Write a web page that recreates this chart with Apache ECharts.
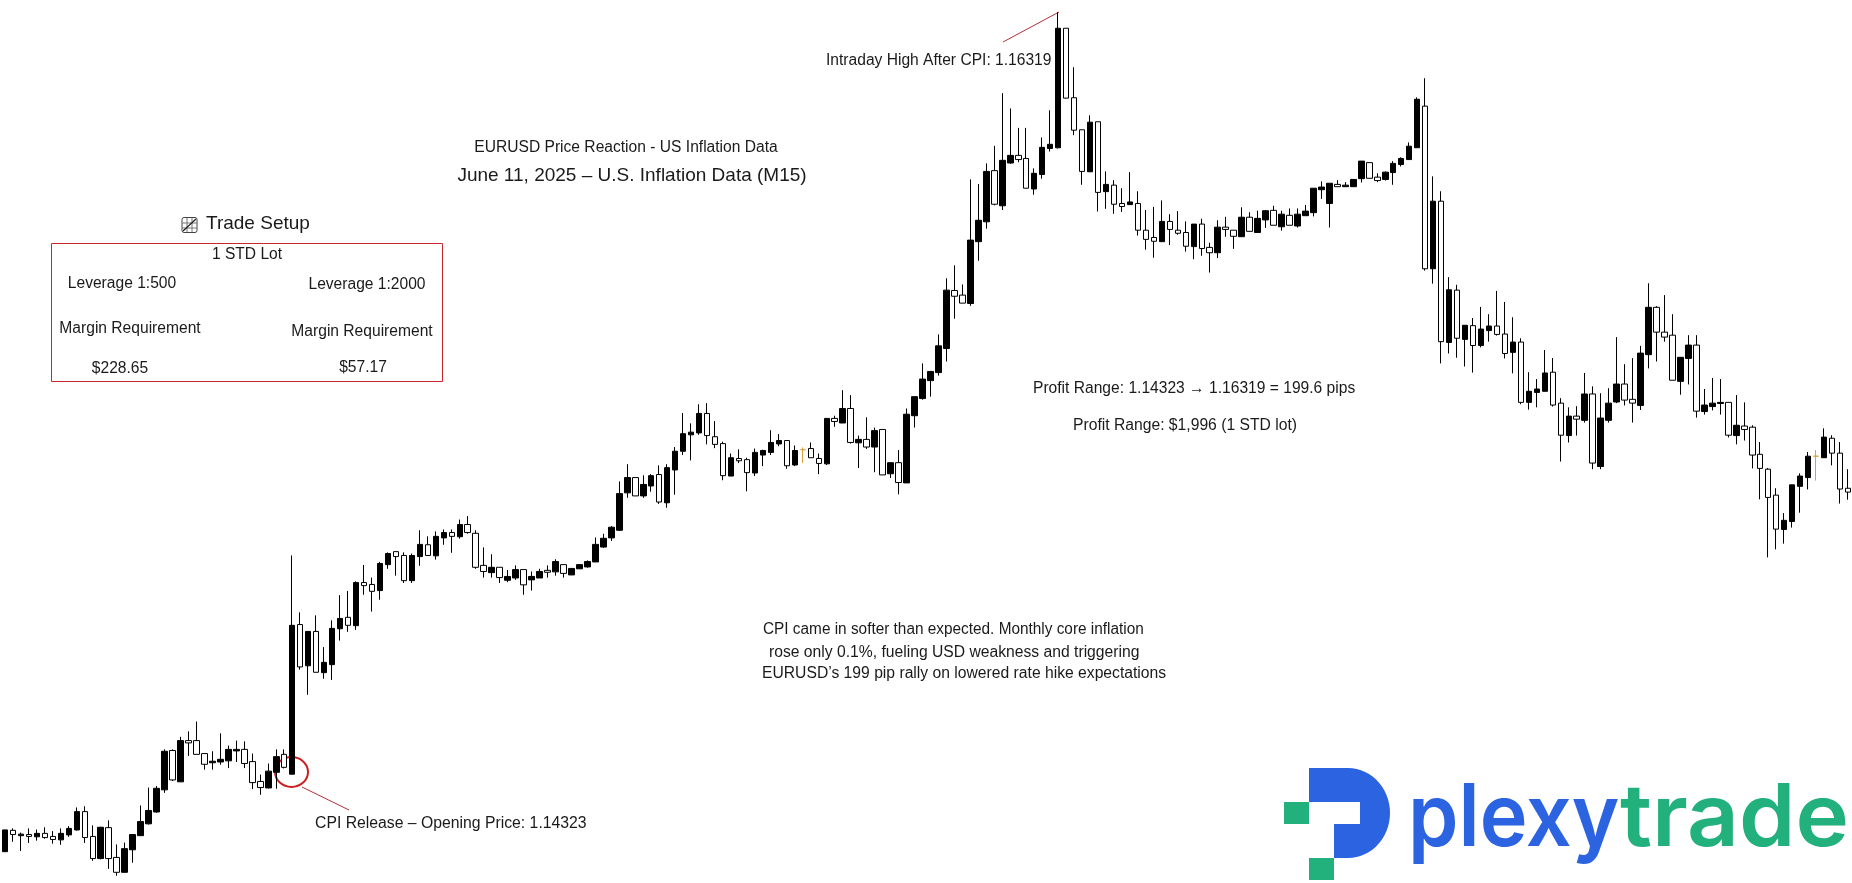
<!DOCTYPE html>
<html>
<head>
<meta charset="utf-8">
<title>EURUSD Price Reaction - US Inflation Data</title>
<style>
    html, body {margin: 0; padding: 0; background: #fff;}
    #chart {width: 1852px; height: 883px;}
</style>
<script src="https://cdn.jsdelivr.net/npm/echarts@6/dist/echarts.min.js"></script>
</head>
<body>
<div id="chart"></div>
<script>
// M15 candles, in points (0.00001) above 1.14000
const basePrice = 1.14;
const opens = [
    120,176,162,165,159,168,160,151,164,177,
    225,160,102,183,105,66,125,162,193,224,
    282,385,303,411,411,377,353,355,358,384,
    388,356,304,287,328,375,323,715,607,697,
    589,610,704,734,712,825,820,804,872,906,
    896,830,893,924,895,942,956,945,977,954,
    870,851,865,831,837,859,832,837,857,853,
    872,845,861,866,879,918,942,962,1060,1100,
    1052,1078,1108,1034,1120,1169,1212,1217,1268,1207,
    1189,1104,1150,1147,1112,1159,1166,1188,1197,1133,
    1173,1176,1150,1136,1255,1243,1281,1191,1200,1180,
    1226,1110,1139,1086,1262,1307,1354,1375,1438,1590,
    1578,1556,1718,1770,1904,1812,1924,1944,1936,1856,
    1894,1962,1964,2277,2095,2011,1901,2032,1849,1866,
    1818,1815,1818,1748,1729,1718,1771,1748,1742,1705,
    1764,1703,1689,1756,1748,1731,1782,1742,1775,1800,
    1757,1787,1759,1786,1794,1854,1818,1868,1862,1862,
    1883,1925,1887,1881,1899,1920,1933,1964,2073,1647,
    1824,1454,1591,1462,1498,1446,1485,1497,1476,1428,
    1455,1297,1323,1326,1376,1295,1210,1261,1250,1319,
    1129,1250,1298,1345,1305,1289,1422,1546,1481,1473,
    1352,1412,1447,1273,1286,1294,1297,1210,1235,1232,
    1161,1122,1054,964,985,1077,1100,1156,1152,1203,
    1164,1072
];
const closes = [
    177,165,166,160,168,157,152,168,181,225,
    157,102,184,102,66,128,165,199,228,286,
    383,308,411,405,375,349,357,362,388,388,
    351,301,288,331,369,341,713,604,697,590,
    616,705,731,713,825,817,802,875,901,893,
    830,896,925,896,946,956,946,977,956,865,
    854,865,838,841,859,819,841,854,852,880,
    849,862,872,880,925,941,970,1058,1100,1052,
    1082,1105,1036,1126,1169,1215,1219,1268,1210,1187,
    1105,1152,1144,1113,1166,1171,1192,1197,1131,1171,
    1173,1152,1137,1255,1247,1281,1192,1200,1180,1223,
    1107,1139,1087,1266,1312,1358,1378,1445,1591,1575,
    1557,1722,1774,1902,1816,1931,1944,1933,1858,1897,
    1965,1973,2277,2094,2010,1902,2031,1847,1868,1816,
    1810,1822,1748,1724,1719,1771,1750,1740,1706,1764,
    1700,1689,1756,1750,1732,1782,1745,1779,1799,1761,
    1790,1761,1790,1798,1858,1861,1871,1862,1866,1881,
    1929,1884,1878,1900,1923,1936,1968,2091,1647,1824,
    1456,1592,1465,1499,1446,1489,1497,1475,1425,1455,
    1297,1326,1332,1374,1290,1211,1261,1253,1319,1138,
    1256,1295,1345,1303,1295,1426,1546,1481,1468,1355,
    1415,1447,1274,1290,1295,1297,1211,1237,1226,1159,
    1124,1048,965,988,1081,1104,1156,1156,1206,1164,
    1070,1062
];
const highs = [
    177,181,170,181,178,184,174,181,187,236,
    239,189,185,202,139,144,165,241,288,292,
    388,388,421,435,461,377,383,430,398,411,
    409,377,322,351,388,388,896,747,698,739,
    656,726,792,803,828,871,838,879,904,907,
    904,901,962,946,959,964,964,990,999,962,
    917,899,865,858,870,859,854,861,870,886,
    872,862,872,883,943,953,973,1090,1135,1100,
    1106,1109,1132,1135,1180,1269,1242,1292,1295,1248,
    1194,1163,1174,1152,1176,1173,1224,1214,1197,1184,
    1179,1192,1163,1255,1262,1329,1316,1210,1258,1231,
    1226,1139,1172,1281,1312,1399,1378,1475,1622,1656,
    1606,1881,1869,1923,1969,2107,2067,2016,2016,1910,
    1991,2062,2319,2277,2175,2011,2049,2032,1902,1879,
    1858,1900,1850,1801,1809,1826,1790,1798,1771,1764,
    1778,1715,1774,1783,1748,1808,1795,1799,1801,1812,
    1799,1805,1805,1814,1858,1876,1871,1879,1874,1881,
    1929,1925,1897,1902,1929,1939,1978,2096,2146,1889,
    1850,1625,1605,1499,1518,1547,1528,1589,1560,1520,
    1465,1376,1358,1434,1413,1308,1284,1287,1374,1339,
    1321,1334,1468,1397,1413,1445,1609,1549,1578,1528,
    1415,1473,1473,1332,1361,1358,1297,1316,1297,1237,
    1193,1125,1072,1007,1081,1111,1167,1172,1229,1211,
    1193,1122
];
const lows = [
    120,146,122,143,149,154,141,138,159,175,
    143,96,100,75,57,65,91,162,191,222,
    274,305,303,371,375,335,335,348,339,355,
    339,284,269,286,285,338,323,597,531,590,
    573,570,673,696,701,793,749,780,861,843,
    824,824,869,896,885,924,903,940,953,861,
    838,838,824,826,832,793,804,837,838,843,
    838,845,861,864,879,916,934,960,1047,1052,
    1047,1063,1031,1021,1055,1159,1145,1212,1187,1177,
    1093,1104,1138,1064,1104,1130,1159,1182,1123,1130,
    1138,1152,1109,1133,1233,1243,1189,1125,1175,1114,
    1107,1099,1056,1086,1231,1304,1312,1367,1404,1516,
    1557,1550,1668,1752,1813,1801,1922,1926,1858,1841,
    1883,1954,1962,2093,1997,1867,1901,1797,1804,1791,
    1796,1815,1734,1697,1676,1718,1709,1736,1692,1672,
    1681,1637,1675,1731,1699,1731,1745,1742,1754,1761,
    1747,1761,1755,1786,1784,1830,1755,1862,1862,1862,
    1873,1884,1874,1878,1867,1915,1933,1964,1642,1608,
    1399,1425,1414,1391,1375,1441,1456,1472,1412,1373,
    1292,1278,1284,1326,1286,1142,1192,1210,1244,1122,
    1122,1244,1295,1289,1244,1277,1386,1404,1456,1355,
    1317,1344,1257,1265,1276,1265,1205,1187,1197,1124,
    1043,891,912,927,969,1008,1069,1092,1152,1132,
    1032,1042
];
// the two orange doji candles
const dojiCandles = [100, 227];

const textFont = '"Liberation Sans", Arial, sans-serif';
const redLine = '#b5303a';
const logoBlue = '#2b63e0';
const logoGreen = '#22b07d';

function price(points) {
    return +(basePrice + points / 100000).toFixed(5);
}

// the reference text is tall and tight, so size up and squeeze a little
function label(text, x, y, size, align, squeeze) {
    return {
        type: 'text',
        x: x,
        y: y,
        scaleX: squeeze || 0.975,
        silent: true,
        style: {
            text: text,
            fill: '#1a1a1a',
            font: size + 'px ' + textFont,
            textAlign: align || 'left',
            textVerticalAlign: 'middle'
        }
    };
}

function box(x, y, w, h, color) {
    return {type: 'rect', silent: true, shape: {x: x, y: y, width: w, height: h}, style: {fill: color}};
}

function stroke(x1, y1, x2, y2, color, width) {
    return {
        type: 'line',
        silent: true,
        shape: {x1: x1, y1: y1, x2: x2, y2: y2},
        style: {stroke: color, lineWidth: width}
    };
}

function logoWord(text, x, color, squeeze) {
    return {
        type: 'text',
        silent: true,
        x: x,
        y: 820,
        scaleX: squeeze,
        style: {text: text, fill: color, font: '600 87px Inter, sans-serif', textAlign: 'left', textVerticalAlign: 'middle'}
    };
}

// the P of the logo: straight part plus the round right side
function logoShape() {
    let points = [[1309, 768]];
    for (let deg = -90; deg <= 90; deg += 6) {
        let rad = deg * Math.PI / 180;
        points.push([1348 + 42 * Math.cos(rad), 813 + 45 * Math.sin(rad)]);
    }
    return points.concat([[1334, 858], [1334, 824], [1360, 824], [1360, 802], [1309, 802]]);
}

let candles = opens.map((open, i) => {
    let item = {value: [price(open), price(closes[i]), price(lows[i]), price(highs[i])]};
    if (dojiCandles.indexOf(i) >= 0) {
        item.itemStyle = {color: '#e0a040', borderColor: '#e0a040', color0: '#e0a040', borderColor0: '#e0a040', borderColorDoji: '#e0a040'};
    }
    return item;
});

let annotations = [
    label('Intraday High After CPI: 1.16319', 826, 61, 16),
    label('EURUSD Price Reaction - US Inflation Data', 626, 148, 16, 'center'),
    label('June 11, 2025 \u2013 U.S. Inflation Data (M15)', 632, 175.5, 19, 'center', 1),
    label('Trade Setup', 206, 224, 19, 'left', 1),
    label('1 STD Lot', 247, 255, 16, 'center'),
    label('Leverage 1:500', 122, 283.5, 16, 'center'),
    label('Leverage 1:2000', 367, 284.5, 16, 'center'),
    label('Margin Requirement', 130, 328.5, 16, 'center'),
    label('Margin Requirement', 362, 331.5, 16, 'center'),
    label('$228.65', 120, 369, 16, 'center'),
    label('$57.17', 363, 368, 16, 'center'),
    label('CPI Release \u2013 Opening Price: 1.14323', 315, 824, 16, 'left', 0.985),
    label('Profit Range: 1.14323 \u2192 1.16319 = 199.6 pips', 1033, 388.5, 16),
    label('Profit Range: $1,996 (1 STD lot)', 1073, 426, 16, 'left', 0.98),
    label('CPI came in softer than expected. Monthly core inflation', 763, 630, 16, 'left', 0.96),
    label('rose only 0.1%, fueling USD weakness and triggering', 769, 652.5, 16, 'left', 0.98),
    label('EURUSD\u2019s 199 pip rally on lowered rate hike expectations', 762, 674, 16, 'left', 0.98)
];

// leader lines and the circle round the CPI candle
let marks = [
    stroke(1003, 42, 1059, 12, redLine, 1),
    stroke(302, 787, 349, 810, redLine, 1),
    {
        type: 'ellipse',
        silent: true,
        shape: {cx: 291.5, cy: 772, rx: 16.5, ry: 15},
        style: {fill: 'none', stroke: '#cc1f1f', lineWidth: 2}
    },
    {
        type: 'rect',
        silent: true,
        shape: {x: 51.5, y: 243.5, width: 391, height: 138},
        style: {fill: 'none', stroke: '#c8282d', lineWidth: 1}
    }
];

// little chart icon in front of Trade Setup
let icon = [
    {
        type: 'rect',
        silent: true,
        shape: {x: 182, y: 217.5, width: 15, height: 15, r: 2},
        style: {fill: 'none', stroke: '#444', lineWidth: 1}
    },
    stroke(187, 218, 187, 232, '#777', 1),
    stroke(192, 218, 192, 232, '#777', 1),
    stroke(182, 223, 197, 223, '#777', 1),
    stroke(182, 228, 197, 228, '#777', 1),
    stroke(183, 231, 196, 219, '#222', 1.2)
];

let logo = [
    box(1284, 802, 25, 22, logoGreen),
    box(1309, 858, 25, 22, logoGreen),
    {type: 'polygon', silent: true, shape: {points: logoShape()}, style: {fill: logoBlue}},
    logoWord('plexy', 1408, logoBlue, 0.93),
    logoWord('trade', 1620, logoGreen, 1.04)
];

let myChart = echarts.init(document.getElementById('chart'), null, {renderer: 'canvas'});
let option = {
    animation: false,
    backgroundColor: '#fff',
    grid: {left: 1, top: 0, width: 1856, height: 883},
    xAxis: {
        type: 'category',
        data: opens.map((v, i) => i),
        show: false,
        boundaryGap: true
    },
    yAxis: {
        type: 'value',
        min: price(38),
        max: price(2351),
        show: false,
        splitLine: {show: false}
    },
    series: [
        {
            type: 'candlestick',
            data: candles,
            barWidth: 6,
            clip: false,
            silent: true,
            itemStyle: {
                color: '#000',
                color0: '#fff',
                borderColor: '#000',
                borderColor0: '#000',
                borderColorDoji: '#000',
                borderWidth: 1
            }
        }
    ],
    graphic: {elements: marks.concat(icon, logo, annotations)}
};
myChart.setOption(option);
</script>
</body>
</html>
